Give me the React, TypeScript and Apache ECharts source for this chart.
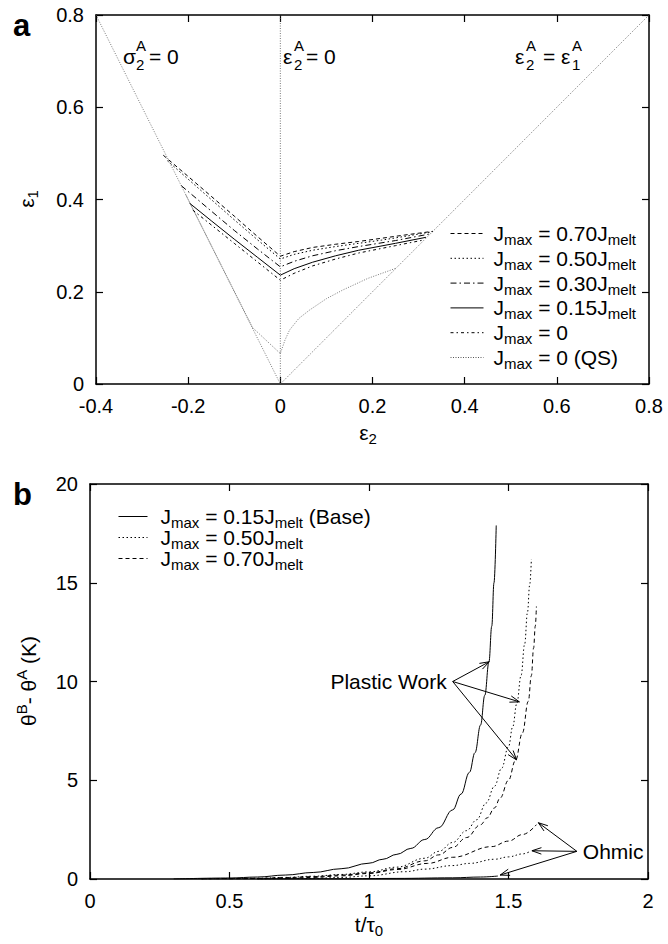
import React, { useEffect, useRef } from "react";
import * as echarts from "echarts";

const FONT = "Liberation Sans, Arial, Helvetica, sans-serif";

// ---------- Panel a : strain paths (ε2, ε1) ----------
const aX = { min: -0.4, max: 0.8, interval: 0.2 };
const aY = { min: 0, max: 0.8, interval: 0.2 };

const refSigma2: number[][] = [[-0.4, 0.8], [0, 0]];
const refEps2: number[][] = [[0, 0], [0, 0.8]];
const refEqual: number[][] = [[0, 0], [0.8, 0.8]];

const aJ070: number[][] = [[-0.254, 0.496], [-0.2, 0.45], [-0.15, 0.407], [-0.1, 0.364], [-0.05, 0.32], [0, 0.277], [0.03, 0.287], [0.07, 0.296], [0.12, 0.303], [0.17, 0.309], [0.22, 0.316], [0.27, 0.323], [0.331, 0.331]];
const aJ050: number[][] = [[-0.245, 0.484], [-0.2, 0.444], [-0.15, 0.4], [-0.1, 0.356], [-0.05, 0.313], [0, 0.271], [0.03, 0.281], [0.07, 0.29], [0.12, 0.298], [0.17, 0.305], [0.22, 0.312], [0.27, 0.32], [0.33, 0.33]];
const aJ030: number[][] = [[-0.215, 0.43], [-0.15, 0.375], [-0.1, 0.333], [-0.05, 0.293], [0, 0.254], [0.03, 0.266], [0.07, 0.278], [0.12, 0.289], [0.17, 0.298], [0.25, 0.311], [0.328, 0.326]];
const aJ015: number[][] = [[-0.197, 0.392], [-0.15, 0.354], [-0.1, 0.314], [-0.05, 0.275], [0, 0.236], [0.03, 0.25], [0.07, 0.264], [0.12, 0.278], [0.17, 0.29], [0.25, 0.305], [0.316, 0.318]];
const aJ0: number[][] = [[-0.19, 0.377], [-0.15, 0.345], [-0.1, 0.305], [-0.05, 0.265], [0, 0.225], [0.03, 0.24], [0.07, 0.256], [0.12, 0.271], [0.17, 0.284], [0.25, 0.3], [0.31, 0.312]];
const aJQS: number[][] = [[-0.205, 0.41], [-0.06, 0.122], [0, 0.066], [0.01, 0.095], [0.02, 0.117], [0.04, 0.142], [0.063, 0.16], [0.1, 0.185], [0.136, 0.204], [0.19, 0.229], [0.251, 0.251]];

// ---------- Panel b : temperature difference vs t/τ0 ----------
const bX = { min: 0, max: 2, interval: 0.5 };
const bY = { min: 0, max: 20, interval: 5 };

const bPlastic015: number[][] = [[0.3, 0], [0.5, 0.05], [0.6, 0.1], [0.7, 0.2], [0.8, 0.33], [0.9, 0.52], [1.0, 0.8], [1.05, 1.0], [1.1, 1.25], [1.15, 1.55], [1.2, 2.0], [1.25, 2.6], [1.3, 3.5], [1.33, 4.3], [1.36, 5.4], [1.38, 6.4], [1.4, 7.8], [1.415, 9.3], [1.43, 11.0], [1.44, 12.8], [1.448, 15.0], [1.456, 17.9]];
const bPlastic050: number[][] = [[0.4, 0], [0.6, 0.04], [0.7, 0.08], [0.8, 0.14], [0.9, 0.23], [1.0, 0.36], [1.1, 0.6], [1.2, 1.05], [1.25, 1.4], [1.3, 1.85], [1.35, 2.45], [1.386, 3.0], [1.42, 3.85], [1.45, 4.7], [1.475, 5.6], [1.5, 6.7], [1.515, 7.7], [1.53, 8.9], [1.545, 10.3], [1.558, 11.9], [1.568, 13.5], [1.576, 14.9], [1.582, 16.2]];
const bPlastic070: number[][] = [[0.4, 0], [0.6, 0.03], [0.7, 0.07], [0.8, 0.12], [0.9, 0.2], [1.0, 0.31], [1.1, 0.52], [1.2, 0.92], [1.25, 1.22], [1.3, 1.6], [1.35, 2.1], [1.4, 2.75], [1.424, 3.1], [1.45, 3.6], [1.47, 4.1], [1.5, 5.0], [1.525, 6.0], [1.55, 7.4], [1.571, 9.0], [1.582, 10.3], [1.59, 11.7], [1.596, 12.8], [1.6, 13.8]];
const bOhmic015: number[][] = [[0.6, 0], [0.9, 0.01], [1.1, 0.03], [1.3, 0.06], [1.4, 0.1], [1.462, 0.15]];
const bOhmic050: number[][] = [[0.6, 0], [0.8, 0.03], [0.9, 0.08], [1.0, 0.16], [1.13, 0.37], [1.2, 0.5], [1.3, 0.68], [1.36, 0.79], [1.45, 1.0], [1.5, 1.12], [1.55, 1.27], [1.578, 1.4]];
const bOhmic070: number[][] = [[0.5, 0], [0.7, 0.03], [0.8, 0.08], [0.9, 0.16], [1.0, 0.28], [1.1, 0.48], [1.21, 0.79], [1.3, 1.1], [1.44, 1.64], [1.5, 1.92], [1.55, 2.25], [1.6, 2.75]];

// arrows: [fromX, fromY, toX, toY]
const plasticArrows: number[][] = [[1.3, 10, 1.431, 11.0], [1.3, 10, 1.539, 8.97], [1.3, 10, 1.529, 6.03]];
const ohmicArrows: number[][] = [[1.745, 1.4, 1.607, 2.85], [1.745, 1.4, 1.584, 1.43], [1.745, 1.4, 1.47, 0.2]];
const annotLabels: string[] = ["Plastic Work", "Ohmic"];
const annotAnchors: number[][] = [[1.3, 10], [1.745, 1.4]];

// legend labels
const legendA: Record<string, string> = {
  J070: "{n|J}{sub|max}{n| = 0.70J}{sub|melt}",
  J050: "{n|J}{sub|max}{n| = 0.50J}{sub|melt}",
  J030: "{n|J}{sub|max}{n| = 0.30J}{sub|melt}",
  J015: "{n|J}{sub|max}{n| = 0.15J}{sub|melt}",
  J0: "{n|J}{sub|max}{n| = 0}",
  JQS: "{n|J}{sub|max}{n| = 0 (QS)}",
};
const legendB: Record<string, string> = {
  B015: "{n|J}{sub|max}{n| = 0.15J}{sub|melt}{n| (Base)}",
  B050: "{n|J}{sub|max}{n| = 0.50J}{sub|melt}",
  B070: "{n|J}{sub|max}{n| = 0.70J}{sub|melt}",
};

const DASH = [4, 3];
const DOT = [1.5, 2.5];
const DASHDOT = [6, 3, 1.5, 3];
const DASHDOT2 = [3, 3, 1.5, 3];
const FINEDOT = [1, 1.5];

const F = 21;
const FS = 15;

function makeRich(lh: number) {
  return {
    n: { fontSize: F, fontFamily: FONT, color: "#000", fill: "#000", lineHeight: lh },
    sub: { fontSize: FS, fontFamily: FONT, color: "#000", fill: "#000", padding: [12, 0, 0, 0], lineHeight: lh },
    sup: { fontSize: FS, fontFamily: FONT, color: "#000", fill: "#000", padding: [0, 0, 14, 0], lineHeight: lh },
  } as any;
}

function axisCommon(showLabel: boolean) {
  return {
    axisLine: { onZero: false, lineStyle: { color: "#000", width: 1.5 } },
    axisTick: { show: true, inside: true, length: 7, lineStyle: { color: "#000", width: 1.2 } },
    splitLine: { show: false },
    axisLabel: { show: showLabel, color: "#000", fontSize: 20, fontFamily: FONT, margin: 12 },
  };
}

function lineSeries(name: string, data: number[][], xi: number, yi: number, type: any, color = "#000", width = 1, smooth: any = false) {
  return {
    name,
    type: "line",
    data,
    xAxisIndex: xi,
    yAxisIndex: yi,
    symbol: "none",
    showSymbol: false,
    smooth,
    smoothMonotone: smooth ? "x" : undefined,
    silent: true,
    lineStyle: { color, width, type },
    itemStyle: { color },
  };
}

function arrowRender(params: any, api: any) {
  const p0 = api.coord([api.value(0), api.value(1)]);
  const p1 = api.coord([api.value(2), api.value(3)]);
  const ang = Math.atan2(p1[1] - p0[1], p1[0] - p0[0]);
  const L = 10;
  const a = 0.33;
  const h1 = [p1[0] - L * Math.cos(ang - a), p1[1] - L * Math.sin(ang - a)];
  const h2 = [p1[0] - L * Math.cos(ang + a), p1[1] - L * Math.sin(ang + a)];
  return {
    type: "group",
    children: [
      { type: "line", shape: { x1: p0[0], y1: p0[1], x2: p1[0], y2: p1[1] }, style: { stroke: "#000", lineWidth: 1 } },
      { type: "polyline", shape: { points: [h1, p1, h2] }, style: { stroke: "#000", fill: null, lineWidth: 1 } },
    ],
  };
}

function annotRender(params: any, api: any) {
  const p = api.coord([api.value(0), api.value(1)]);
  const i = params.dataIndex;
  const right = i === 0;
  return {
    type: "text",
    x: right ? p[0] - 6 : p[0] + 6,
    y: p[1],
    style: {
      text: annotLabels[i],
      fontSize: F,
      fontFamily: FONT,
      fill: "#000",
      align: right ? "right" : "left",
      verticalAlign: "middle",
    },
  };
}

function txt(text: string, x: number, y: number, size = F, extra: any = {}) {
  return {
    type: "text",
    x,
    y,
    silent: true,
    style: { text, fontSize: size, fontFamily: FONT, fill: "#000", align: "left", verticalAlign: "middle", ...extra },
  };
}

export default function App() {
  const ref = useRef<HTMLDivElement>(null);
  useEffect(() => {
    document.body.style.margin = "0";
    const chart = echarts.init(ref.current!, null, { renderer: "svg" });
    const richA = makeRich(22);
    const richB = makeRich(20);
    const option: any = {
      animation: false,
      backgroundColor: "#fff",
      grid: [
        { left: 96, top: 15, width: 553, height: 369 },
        { left: 90, top: 484, width: 558, height: 395 },
      ],
      xAxis: [
        { gridIndex: 0, type: "value", position: "bottom", ...aX, ...axisCommon(true) },
        { gridIndex: 0, type: "value", position: "top", ...aX, ...axisCommon(false) },
        { gridIndex: 1, type: "value", position: "bottom", ...bX, ...axisCommon(true) },
        { gridIndex: 1, type: "value", position: "top", ...bX, ...axisCommon(false) },
      ],
      yAxis: [
        { gridIndex: 0, type: "value", position: "left", ...aY, ...axisCommon(true) },
        { gridIndex: 0, type: "value", position: "right", ...aY, ...axisCommon(false) },
        { gridIndex: 1, type: "value", position: "left", ...bY, ...axisCommon(true) },
        { gridIndex: 1, type: "value", position: "right", ...bY, ...axisCommon(false) },
      ],
      legend: [
        {
          data: ["J070", "J050", "J030", "J015", "J0", "JQS"],
          orient: "vertical",
          left: 445,
          top: 215,
          itemWidth: 33,
          itemHeight: 14,
          itemGap: -2.2,
          selectedMode: false,
          formatter: (n: string) => legendA[n],
          itemStyle: { opacity: 0 },
          lineStyle: { width: 1 },
          textStyle: { rich: richA, padding: [0, 0, 0, 5] },
        },
        {
          data: ["B015", "B050", "B070"],
          orient: "vertical",
          left: 113,
          top: 498,
          itemWidth: 29,
          itemHeight: 14,
          itemGap: -6,
          selectedMode: false,
          formatter: (n: string) => legendB[n],
          itemStyle: { opacity: 0 },
          lineStyle: { width: 1 },
          textStyle: { rich: richB, padding: [0, 0, 0, 8] },
        },
      ],
      series: [
        lineSeries("refS", refSigma2, 0, 0, FINEDOT, "#555", 0.8),
        lineSeries("refE", refEps2, 0, 0, FINEDOT, "#555", 0.8),
        lineSeries("refQ", refEqual, 0, 0, FINEDOT, "#555", 0.8),
        lineSeries("JQS", aJQS, 0, 0, FINEDOT, "#555", 0.8),
        lineSeries("J070", aJ070, 0, 0, DASH),
        lineSeries("J050", aJ050, 0, 0, DOT),
        lineSeries("J030", aJ030, 0, 0, DASHDOT),
        lineSeries("J015", aJ015, 0, 0, "solid"),
        lineSeries("J0", aJ0, 0, 0, DASHDOT2),
        lineSeries("B015", bPlastic015, 2, 2, "solid", "#000", 1, 0.4),
        lineSeries("B050", bPlastic050, 2, 2, DOT, "#000", 1, 0.4),
        lineSeries("B070", bPlastic070, 2, 2, DASH, "#000", 1, 0.4),
        lineSeries("O015", bOhmic015, 2, 2, "solid", "#000", 1, 0.4),
        lineSeries("O050", bOhmic050, 2, 2, DOT, "#000", 1, 0.4),
        lineSeries("O070", bOhmic070, 2, 2, DASH, "#000", 1, 0.4),
        {
          type: "custom",
          name: "arrows",
          xAxisIndex: 2,
          yAxisIndex: 2,
          clip: false,
          silent: true,
          renderItem: arrowRender,
          data: [...plasticArrows, ...ohmicArrows],
        },
        {
          type: "custom",
          name: "annot",
          xAxisIndex: 2,
          yAxisIndex: 2,
          clip: false,
          silent: true,
          renderItem: annotRender,
          data: annotAnchors,
        },
      ],
      graphic: [
        txt("a", 13, 25, 31, { fontWeight: "bold" }),
        txt("b", 13, 494, 31, { fontWeight: "bold" }),
        // σ2A = 0
        txt("σ", 123, 56),
        txt("A", 136, 45, FS),
        txt("2", 136, 64, FS),
        txt("= 0", 149, 56),
        // ε2A = 0
        txt("ε", 283, 56),
        txt("A", 294, 45, FS),
        txt("2", 294, 64, FS),
        txt("= 0", 306, 56),
        // ε2A = ε1A
        txt("ε", 515, 56),
        txt("A", 526, 45, FS),
        txt("2", 526, 64, FS),
        txt("=", 543, 56),
        txt("ε", 561, 56),
        txt("A", 572, 45, FS),
        txt("1", 572, 64, FS),
        // axis titles
        {
          type: "text", x: 26, y: 199, rotation: Math.PI / 2, silent: true,
          style: { text: "{n|ε}{sub|1}", rich: richA, align: "center", verticalAlign: "middle" },
        },
        {
          type: "text", x: 368, y: 432, silent: true,
          style: { text: "{n|ε}{sub|2}", rich: richA, align: "center", verticalAlign: "middle" },
        },
        {
          type: "text", x: 28, y: 681, rotation: Math.PI / 2, silent: true,
          style: { text: "{n|θ}{sup|B}{n|- θ}{sup|A}{n| (K)}", rich: richA, align: "center", verticalAlign: "middle" },
        },
        {
          type: "text", x: 369, y: 924, silent: true,
          style: { text: "{n|t/τ}{sub|0}", rich: richA, align: "center", verticalAlign: "middle" },
        },
      ],
    };
    chart.setOption(option);
    return () => chart.dispose();
  }, []);
  return <div ref={ref} style={{ width: 668, height: 944 }} />;
}
